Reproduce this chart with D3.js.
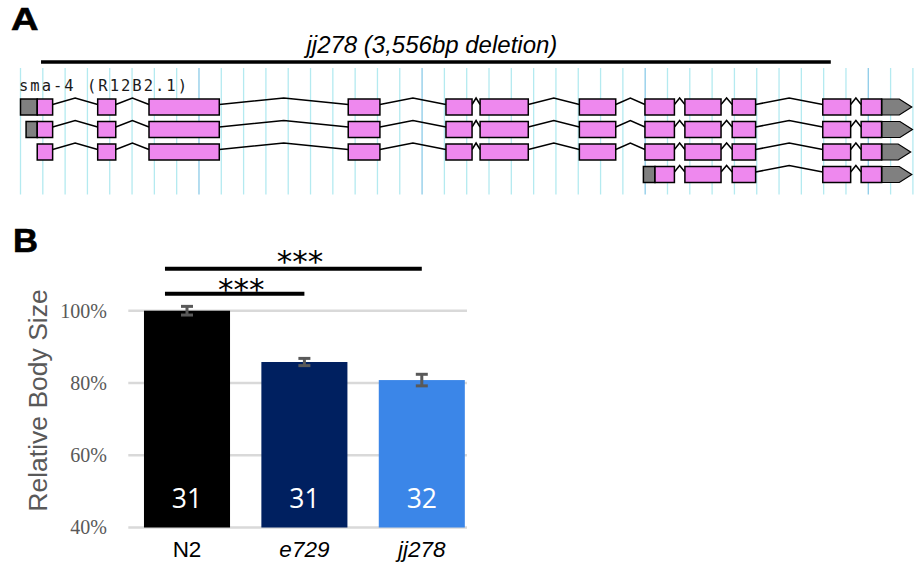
<!DOCTYPE html>
<html>
<head>
<meta charset="utf-8">
<script src="https://cdn.jsdelivr.net/npm/d3@7"></script>
<style>
  html, body { margin: 0; padding: 0; background: #ffffff; }
  svg { display: block; }
</style>
</head>
<body>
<svg id="chart" width="920" height="565"></svg>
<script>
// ---------------- Panel A data (positions in bp from the first grid line) ----------------
const geneLabel = "sma-4 (R12B2.1)";
const deletionLabel = "jj278 (3,556bp deletion)";
const deletionRange = [92, 3632];
const exonsFull = [[75,144],[346,427],[576,891],[1469,1611],[1907,2024],[2060,2276],[2505,2668],[2799,2931],[2978,3140],[3190,3295],[3596,3721],[3768,3860]];
const exonsShort = [[2844,2931],[2978,3140],[3190,3295],[3596,3721],[3768,3860]];
const rowExons = [exonsFull, exonsFull, exonsFull, exonsShort];
const rowUtr5 = [[0,75],[25,75],null,[2792,2844]];
const rowUtr3 = [[3860,3995],[3860,3998],[3860,3990],[3860,3995]];
const gridStepBp = 100;
const gridMaxBp = 4000;

// ---------------- Panel B data ----------------
const strains = ["N2", "e729", "jj278"];
const strainItalic = [false, true, true];
const sizeMeans = [1.000, 0.858, 0.808];
const sizeErrors = [0.012, 0.010, 0.016];
const sampleN = [31, 31, 32];
const barColors = ["#000000", "#002060", "#3b86e8"];
const yTicks = [0.4, 0.6, 0.8, 1.0];
const comparisons = [
  { from: "N2", to: "jj278", label: "***" },
  { from: "N2", to: "e729", label: "***" }
];

const svg = d3.select("#chart");

// ================= Panel A =================
const gx = d3.scaleLinear().domain([0, gridMaxBp]).range([20.5, 20.5 + gridMaxBp * 0.2231]);
const rowTop = d3.scaleLinear().domain([0, 1]).range([99, 121.5]);
const boxH = 16;

svg.append("text").attr("x", 11).attr("y", 30)
  .attr("font-family", "Liberation Sans, Arial, sans-serif").attr("font-weight", "bold")
  .attr("font-size", 30.5).attr("textLength", 27.5).attr("lengthAdjust", "spacingAndGlyphs")
  .attr("stroke", "#000").attr("stroke-width", 0.6)
  .text("A");

const gA = svg.append("g");
// grid lines
gA.selectAll("line.grid").data(d3.range(0, gridMaxBp + 1, gridStepBp)).join("line")
  .attr("x1", d => gx(d)).attr("x2", d => gx(d))
  .attr("y1", 68).attr("y2", 194.5)
  .attr("stroke", d => (d % 1000 === 800) ? "#8ccbe8" : "#b4eaf0")
  .attr("stroke-width", 1.3);

// deletion bar and label
gA.append("line")
  .attr("x1", gx(deletionRange[0])).attr("x2", gx(deletionRange[1]))
  .attr("y1", 62).attr("y2", 62).attr("stroke", "#000").attr("stroke-width", 3.5);
gA.append("text")
  .attr("x", (gx(deletionRange[0]) + gx(deletionRange[1])) / 2 - 4).attr("y", 53)
  .attr("text-anchor", "middle")
  .attr("font-family", "Liberation Sans, Arial, sans-serif").attr("font-style", "italic")
  .attr("font-size", 24).attr("fill", "#000")
  .text(deletionLabel);

// gene label
gA.append("text").attr("x", 19).attr("y", 90.5)
  .attr("font-family", "DejaVu Sans Mono, monospace").attr("font-size", 15.5)
  .attr("textLength", 168).attr("lengthAdjust", "spacing")
  .attr("fill", "#1a1a1a").text(geneLabel);

// transcripts
rowExons.forEach((exons, r) => {
  const top = rowTop(r);
  const g = gA.append("g");
  // introns
  const introns = [];
  for (let i = 0; i < exons.length - 1; i++) introns.push([exons[i][1], exons[i + 1][0]]);
  g.selectAll("polyline").data(introns).join("polyline")
    .attr("points", d => {
      const a = gx(d[0]), b = gx(d[1]);
      return `${a},${top + 5.5} ${(a + b) / 2},${top - 1} ${b},${top + 5.5}`;
    })
    .attr("fill", "none").attr("stroke", "#000").attr("stroke-width", 1.5);
  // 5' UTR
  if (rowUtr5[r]) {
    g.append("rect").attr("x", gx(rowUtr5[r][0])).attr("y", top)
      .attr("width", gx(rowUtr5[r][1]) - gx(rowUtr5[r][0])).attr("height", boxH)
      .attr("fill", "#808080").attr("stroke", "#000").attr("stroke-width", 1.5);
  }
  // exons
  g.selectAll("rect.exon").data(exons).join("rect").attr("class", "exon")
    .attr("x", d => gx(d[0])).attr("y", top)
    .attr("width", d => gx(d[1]) - gx(d[0])).attr("height", boxH)
    .attr("fill", "#ee88ee").attr("stroke", "#000").attr("stroke-width", 1.5);
  // 3' UTR arrow
  const u = rowUtr3[r];
  const ua = gx(u[0]), ub = gx(u[1]), shoulder = ub - 12.5;
  g.append("polygon")
    .attr("points", `${ua},${top} ${shoulder},${top} ${ub},${top + boxH / 2} ${shoulder},${top + boxH} ${ua},${top + boxH}`)
    .attr("fill", "#808080").attr("stroke", "#000").attr("stroke-width", 1.2);
  g.append("line").attr("x1", ua).attr("x2", ua).attr("y1", top).attr("y2", top + boxH)
    .attr("stroke", "#000").attr("stroke-width", 1.5);
});

// ================= Panel B =================
svg.append("text").attr("x", 13).attr("y", 251.5)
  .attr("font-family", "Liberation Sans, Arial, sans-serif").attr("font-weight", "bold")
  .attr("font-size", 32.5).attr("textLength", 25).attr("lengthAdjust", "spacingAndGlyphs")
  .attr("stroke", "#000").attr("stroke-width", 0.6)
  .text("B");

const y = d3.scaleLinear().domain([0.4, 1.0]).range([527.5, 310.7]);
const x = d3.scaleBand().domain(strains).range([128.3, 480.5]).paddingInner(0.267).paddingOuter(0.1335);
const gridRight = 467;

const gB = svg.append("g");
// gridlines
gB.selectAll("line.yg").data(yTicks).join("line")
  .attr("x1", 128.3).attr("x2", gridRight)
  .attr("y1", d => y(d)).attr("y2", d => y(d))
  .attr("stroke", "#d9d9d9").attr("stroke-width", 2.6);

// y axis (labels only)
const yAxis = d3.axisLeft(y).tickValues(yTicks).tickFormat(d3.format(".0%")).tickSize(0).tickPadding(0);
const yAx = gB.append("g").attr("transform", "translate(107,0)").call(yAxis);
yAx.select(".domain").remove();
yAx.selectAll("text")
  .attr("font-family", "Liberation Serif, Times New Roman, serif").attr("font-size", 20)
  .attr("fill", "#595959");

// y title
gB.append("text").attr("transform", "translate(46.5,400.5) rotate(-90)")
  .attr("text-anchor", "middle")
  .attr("font-family", "Liberation Sans, Arial, sans-serif").attr("font-size", 26.5)
  .attr("fill", "#595959").text("Relative Body Size");

// bars
gB.selectAll("rect.bar").data(strains).join("rect")
  .attr("x", d => x(d)).attr("width", x.bandwidth())
  .attr("y", (d, i) => y(sizeMeans[i])).attr("height", (d, i) => y(0.4) - y(sizeMeans[i]))
  .attr("fill", (d, i) => barColors[i]);

// error bars
const eb = gB.selectAll("g.eb").data(strains).join("g");
eb.append("line")
  .attr("x1", d => x(d) + x.bandwidth() / 2).attr("x2", d => x(d) + x.bandwidth() / 2)
  .attr("y1", (d, i) => y(sizeMeans[i] + sizeErrors[i])).attr("y2", (d, i) => y(sizeMeans[i] - sizeErrors[i]))
  .attr("stroke", "#595959").attr("stroke-width", 3);
[1, -1].forEach(s => {
  eb.append("line")
    .attr("x1", d => x(d) + x.bandwidth() / 2 - 6).attr("x2", d => x(d) + x.bandwidth() / 2 + 6)
    .attr("y1", (d, i) => y(sizeMeans[i] + s * sizeErrors[i])).attr("y2", (d, i) => y(sizeMeans[i] + s * sizeErrors[i]))
    .attr("stroke", "#595959").attr("stroke-width", 3);
});

// n labels
gB.selectAll("text.n").data(strains).join("text")
  .attr("x", d => x(d) + x.bandwidth() / 2).attr("y", 507.5)
  .attr("text-anchor", "middle")
  .attr("font-family", "Open Sans, sans-serif").attr("font-size", 26.5)
  .attr("fill", "#ffffff").text((d, i) => sampleN[i]);

// x labels
const xAxis = d3.axisBottom(x).tickSize(0).tickPadding(0);
const xAx = gB.append("g").attr("transform", "translate(0,557)").call(xAxis);
xAx.select(".domain").remove();
xAx.selectAll("text")
  .attr("dy", 0)
  .attr("font-family", "Liberation Sans, Arial, sans-serif").attr("font-size", 22.5)
  .attr("fill", "#000")
  .attr("font-style", (d, i) => strainItalic[i] ? "italic" : "normal");

// significance brackets
const sigLevels = [268.7, 293.7];
const sigTextDy = [3.5, 6.5];
comparisons.forEach((c, k) => {
  const x1 = x(c.from) + 21;
  const x2 = x(c.to) + x.bandwidth() / 2;
  const yy = sigLevels[k];
  gB.append("line").attr("x1", x1).attr("x2", x2).attr("y1", yy).attr("y2", yy)
    .attr("stroke", "#000").attr("stroke-width", 4);
  gB.append("text").attr("x", (x1 + x2) / 2 + 6.5).attr("y", yy + sigTextDy[k])
    .attr("text-anchor", "middle")
    .attr("font-family", "DejaVu Sans, sans-serif").attr("font-size", 31)
    .attr("fill", "#000").text(c.label);
});
</script>
</body>
</html>
